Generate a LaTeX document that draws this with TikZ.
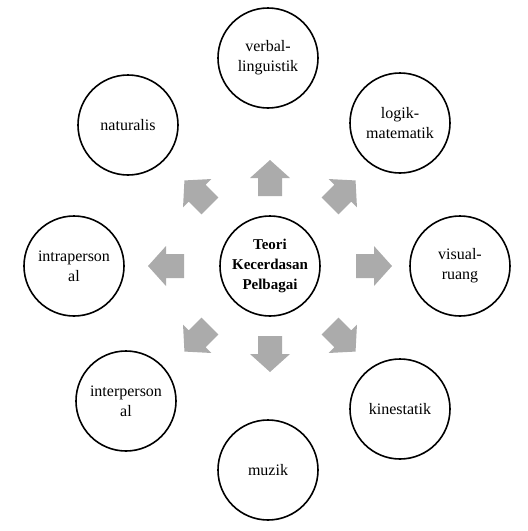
\documentclass[tikz,border=0pt]{standalone}
\usepackage{fontspec}
\setmainfont{Liberation Serif}
\begin{document}
\begin{tikzpicture}[x=1pt,y=-1pt,
  circ/.style={circle,draw=black,line width=1.6pt,minimum size=100pt,inner sep=0pt,align=center,font=\fontsize{16}{20}\selectfont},
  barrow/.style={fill=black!33,draw=none}]
\useasboundingbox (0,0) rectangle (528,531);
\node[circ,font=\fontsize{15}{20}\selectfont\bfseries] (c) at (270,266) {Teori\\Kecerdasan\\Pelbagai};
\node[circ] (v) at (268,58) {verbal-\\linguistik};
\node[circ] (l) at (400,123) {logik-\\matematik};
\node[circ] (vr) at (460,266) {visual-\\ruang};
\node[circ] (k) at (400,409) {kinestatik};
\node[circ] (m) at (268,470) {muzik};
\node[circ] (ie) at (126,401) {interperson\\al};
\node[circ] (ia) at (74,266) {intraperson\\al};
\node[circ] (n) at (128,125) {naturalis};
\foreach \ang/\d in {90/88,45/103,0/104,-45/103,-90/88,-135/103,180/104,135/103}{
  \begin{scope}[shift={(270,266)},rotate=-\ang,shift={(\d,0)}]
    \fill[barrow] (-18,-12) -- (0,-12) -- (0,-20) -- (18,0) -- (0,20) -- (0,12) -- (-18,12) -- cycle;
  \end{scope}
}
\end{tikzpicture}
\end{document}
